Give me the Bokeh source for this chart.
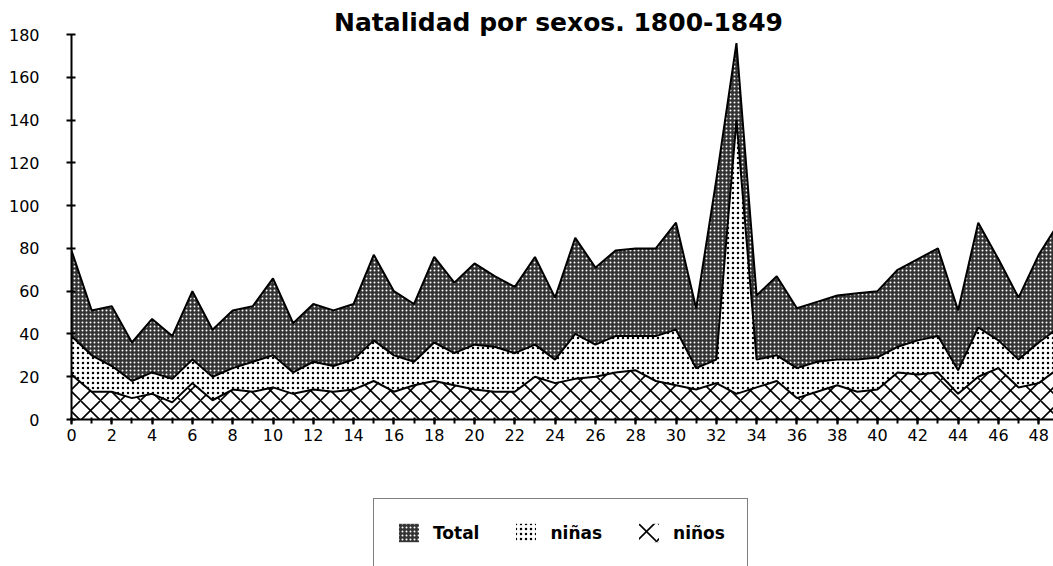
from bokeh.plotting import figure
from bokeh.layouts import column
from bokeh.models import ColumnDataSource, Range1d, FixedTicker, Label, Legend, LegendItem
from bokeh.transform import stack
from bokeh.embed import file_html
from bokeh.resources import INLINE

# Data (1800-1849 -> 0..49)
years = list(range(50))
ninos = [21, 13, 13, 10, 12, 8, 17, 9, 14, 13,
         15, 12, 14, 13, 14, 18, 13, 16, 18, 16,
         14, 13, 13, 20, 17, 19, 20, 22, 23, 18,
         16, 14, 17, 12, 15, 18, 10, 13, 16, 13,
         14, 22, 21, 22, 12, 20, 24, 15, 17, 24]
ninas = [18, 17, 12, 8, 10, 11, 11, 11, 10, 14,
         15, 10, 13, 12, 14, 19, 17, 11, 18, 15,
         21, 21, 18, 15, 11, 21, 15, 17, 16, 21,
         26, 10, 11, 128, 13, 12, 14, 14, 12, 15,
         15, 12, 16, 17, 11, 23, 13, 13, 19, 19]
total = [40, 21, 28, 18, 25, 20, 32, 22, 27, 26,
         36, 23, 27, 26, 26, 40, 30, 27, 40, 33,
         38, 33, 31, 41, 29, 45, 36, 40, 41, 41,
         50, 28, 84, 36, 30, 37, 28, 28, 30, 31,
         31, 36, 38, 41, 28, 49, 38, 29, 41, 49]

x_ticks = list(range(0, 49, 2))
y_ticks = list(range(0, 181, 20))
series_names = ["Total", "niñas", "niños"]
title_text = "Natalidad por sexos. 1800-1849"

src = ColumnDataSource(dict(x=years, ninos=ninos, ninas=ninas, total=total))

STYLE_NINOS = dict(fill_color="white", hatch_pattern="diagonal_cross",
                   hatch_color="black", hatch_scale=20, hatch_weight=1.6)
STYLE_NINAS = dict(fill_color="white", hatch_pattern="dot",
                   hatch_color="black", hatch_scale=5, hatch_weight=1.4)
STYLE_TOTAL = dict(fill_color="#333333", hatch_pattern="dot",
                   hatch_color="white", hatch_scale=4, hatch_weight=1.8)

W = 1053
H1, H2 = 460, 106
LEFT, BOTTOM = 71, 419            # frame left / frame bottom (y = 0) in page px
PX_PER_UNIT_Y = 385 / 180
y_top = BOTTOM / PX_PER_UNIT_Y     # frame reaches the top of the canvas
x_end = (W - LEFT) / 20.15

p = figure(width=W, height=H1, output_backend="svg", toolbar_location=None,
           x_range=Range1d(0, x_end), y_range=Range1d(0, y_top),
           min_border_left=LEFT, min_border_right=0, min_border_top=0,
           min_border_bottom=H1 - BOTTOM)
p.outline_line_color = None
p.grid.visible = False
p.background_fill_color = "white"
p.border_fill_color = "white"

FONT = "DejaVu Sans"

LAYERS = [(("ninos",), ()), (("ninos", "ninas"), ("ninos",)),
          (("ninos", "ninas", "total"), ("ninos", "ninas"))]
STYLES = [STYLE_NINOS, STYLE_NINAS, STYLE_TOTAL]


def draw_layers(fig):
    rs = []
    for (top, base), st in zip(LAYERS, STYLES):
        rs.append(fig.varea(x="x", y1=stack(*base), y2=stack(*top), source=src, **st))
    return rs


r_ninos, r_ninas, r_total = draw_layers(p)
for top, _ in LAYERS:
    p.line(x="x", y=stack(*top), source=src, line_color="black", line_width=2)

# axes
xa = p.xaxis[0]
xa.ticker = FixedTicker(ticks=x_ticks, minor_ticks=years)
xa.axis_line_width = 2
xa.major_tick_in = 2
xa.major_tick_out = 5
xa.minor_tick_in = 2
xa.minor_tick_out = 4
xa.major_tick_line_width = 2
xa.minor_tick_line_width = 2
xa.major_label_standoff = 4
xa.major_label_text_font = FONT
xa.major_label_text_font_size = "16px"
xa.major_label_text_color = "black"

ya = p.yaxis[0]
ya.ticker = FixedTicker(ticks=y_ticks)
ya.bounds = (0, 180)
ya.axis_line_width = 2
ya.major_tick_in = 4
ya.major_tick_out = 5
ya.minor_tick_line_color = None
ya.major_tick_line_width = 2
ya.major_label_standoff = 27
ya.major_label_text_font = FONT
ya.major_label_text_font_size = "16px"
ya.major_label_text_color = "black"

# title (inside the frame, which reaches the top of the canvas)
p.add_layout(Label(x=(W - LEFT) / 2 - 4, y=BOTTOM - 22, x_units="screen", y_units="screen",
                   text=title_text, text_align="center", text_baseline="middle",
                   text_font=FONT, text_font_style="bold", text_font_size="25px",
                   text_color="black"))

# legend strip below the chart (its frame is aligned with the chart's frame)
p2 = figure(width=W, height=H2, output_backend="svg", toolbar_location=None,
            x_range=Range1d(0, 1), y_range=Range1d(1000, 1001),
            min_border_left=0, min_border_right=0, min_border_top=0, min_border_bottom=0,
            x_axis_location=None, y_axis_location=None)
p2.outline_line_color = None
p2.grid.visible = False
l_ninos, l_ninas, l_total = draw_layers(p2)

legend = Legend(items=[LegendItem(label=series_names[0], renderers=[l_total]),
                       LegendItem(label=series_names[1], renderers=[l_ninas]),
                       LegendItem(label=series_names[2], renderers=[l_ninos])],
                location=(373 - LEFT, -1), orientation="horizontal",
                border_line_color="black", border_line_width=1.5,
                background_fill_color="white", background_fill_alpha=1,
                label_text_font=FONT, label_text_font_style="bold",
                label_text_color="black",
                label_text_font_size="17px", glyph_width=25, glyph_height=23,
                label_standoff=12, spacing=34, padding=22, margin=0)
p2.add_layout(legend)

open("out.html", "w").write(file_html(column(p, p2, spacing=0), INLINE))
